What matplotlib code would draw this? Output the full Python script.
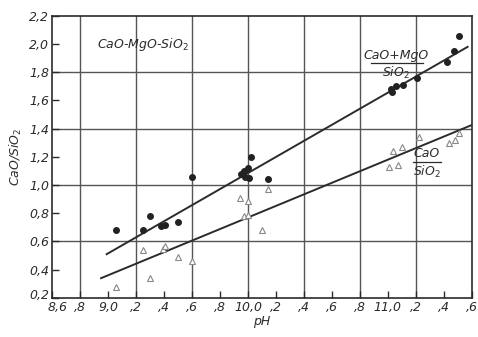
import numpy as np
import matplotlib.pyplot as plt
from matplotlib.transforms import offset_copy

# CaO+MgO / SiO2 (filled circles)
ph_mg = [9.06, 9.25, 9.30, 9.38, 9.41, 9.50, 9.60, 9.95, 9.97, 9.98, 10.0, 10.01, 10.02, 10.14,
         11.02, 11.03, 11.06, 11.11, 11.21, 11.42, 11.47, 11.51]
ratio_mg = [0.68, 0.68, 0.78, 0.71, 0.72, 0.74, 1.06, 1.08, 1.10, 1.06, 1.12, 1.05, 1.20, 1.04,
            1.68, 1.66, 1.70, 1.71, 1.76, 1.87, 1.95, 2.06]

# CaO / SiO2 (open triangles)
ph_ca = [9.06, 9.25, 9.30, 9.39, 9.41, 9.50, 9.60, 9.94, 9.97, 10.0, 10.0, 10.10, 10.14,
         11.01, 11.04, 11.07, 11.10, 11.22, 11.44, 11.48, 11.51]
ratio_ca = [0.28, 0.54, 0.34, 0.55, 0.57, 0.49, 0.46, 0.91, 0.78, 0.89, 0.79, 0.68, 0.97,
            1.13, 1.24, 1.14, 1.27, 1.34, 1.30, 1.32, 1.37]

# fitted lines (end points)
line_mg_x = [8.99, 11.57]
line_mg_y = [0.51, 1.98]
line_ca_x = [8.95, 11.61]
line_ca_y = [0.34, 1.43]

xticks = np.arange(8.6, 11.61, 0.2)
xlabels = ['8,6', ',8', '9,0', ',2', ',4', ',6', ',8', '10,0', ',2', ',4', ',6', ',8',
           '11,0', ',2', ',4', ',6']
yticks = np.arange(0.2, 2.21, 0.2)
ylabels = ['0,2', '0,4', '0,6', '0,8', '1,0', '1,2', '1,4', '1,6', '1,8', '2,0', '2,2']

ink = '#2b2b2b'
fig = plt.figure(figsize=(4.78, 3.37), dpi=100)
ax = fig.add_axes([0.109, 0.116, 0.878, 0.837])

for gx in [8.8, 9.2, 9.6, 10.0, 10.4, 10.8, 11.2]:
    ax.axvline(gx, color='#555555', lw=1.0, zorder=1)
for gy in [0.6, 1.0, 1.4, 1.8]:
    ax.axhline(gy, color='#555555', lw=1.0, zorder=1)

ax.plot(line_mg_x, line_mg_y, color=ink, lw=1.4, zorder=2)
ax.plot(line_ca_x, line_ca_y, color=ink, lw=1.4, zorder=2)
ax.plot(ph_mg, ratio_mg, 'o', color='#222222', ms=4, zorder=3)
ax.plot(ph_ca, ratio_ca, '^', mfc='white', mec='#888888', mew=0.8, ms=5, zorder=3)

ax.set_xlim(8.6, 11.6)
ax.set_ylim(0.2, 2.2)
ax.set_xticks(xticks)
ax.set_xticklabels(xlabels)
ax.set_yticks(yticks)
ax.set_yticklabels(ylabels)
ax.tick_params(direction='in', length=5, width=1, color=ink, labelsize=9, labelcolor=ink, pad=2)
for lab in ax.get_xticklabels() + ax.get_yticklabels():
    lab.set_style('italic')
# nudge the corner labels apart
first_x = ax.get_xticklabels()[0]
first_x.set_transform(offset_copy(first_x.get_transform(), fig=fig, x=4, y=0, units='points'))
first_y = ax.get_yticklabels()[0]
first_y.set_transform(offset_copy(first_y.get_transform(), fig=fig, x=0, y=3, units='points'))
for s in ax.spines.values():
    s.set_color(ink)
    s.set_linewidth(1.2)

ax.text(8.92, 2.0, r'CaO-MgO-SiO$_2$', fontsize=9, style='italic', color=ink, va='center')

# fraction labels
ax.text(11.06, 1.875, 'CaO+MgO', fontsize=9, style='italic', color=ink, ha='center', va='bottom')
ax.plot([10.88, 11.25], [1.865, 1.865], color=ink, lw=0.9)
ax.text(11.06, 1.85, r'SiO$_2$', fontsize=9, style='italic', color=ink, ha='center', va='top')
ax.text(11.28, 1.175, 'CaO', fontsize=9, style='italic', color=ink, ha='center', va='bottom')
ax.plot([11.18, 11.38], [1.165, 1.165], color=ink, lw=0.9)
ax.text(11.28, 1.15, r'SiO$_2$', fontsize=9, style='italic', color=ink, ha='center', va='top')

ax.set_xlabel('pH', fontsize=9, style='italic', color=ink, labelpad=1)
ax.set_ylabel(r'CaO/SiO$_2$', fontsize=9, style='italic', color=ink, labelpad=4)

fig.savefig('out.png', dpi=100)
